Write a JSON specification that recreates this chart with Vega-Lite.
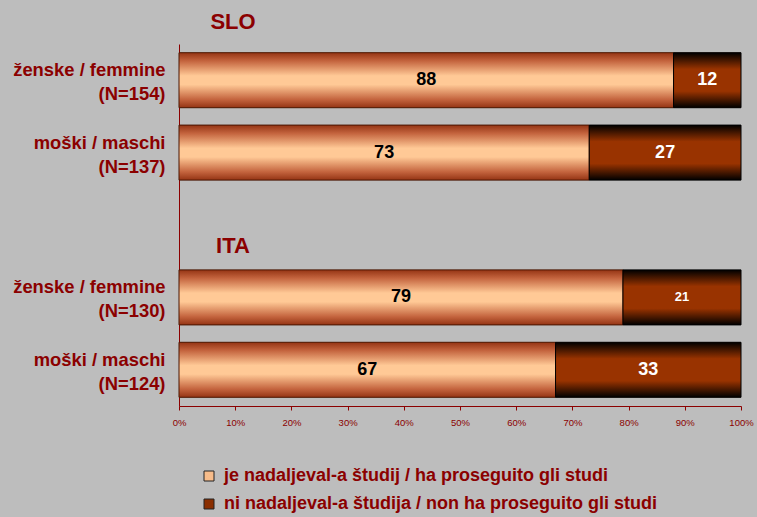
{
  "$schema": "https://vega.github.io/schema/vega-lite/v6.json",
  "width": 562,
  "height": 362,
  "autosize": {"type": "none"},
  "padding": {"left": 179, "top": 44, "right": 16, "bottom": 111},
  "background": "#bdbdbd",
  "config": {"view": {"stroke": null}, "font": "Liberation Sans"},
  "datasets": {
    "bars": [
      {"row": "ženske / femmine|(N=154)", "grp": "SLO", "cat": "je nadaljeval-a študij / ha proseguito gli studi", "value": 88},
      {"row": "ženske / femmine|(N=154)", "grp": "SLO", "cat": "ni nadaljeval-a študija / non ha proseguito gli studi", "value": 12},
      {"row": "moški / maschi|(N=137)", "grp": "SLO", "cat": "je nadaljeval-a študij / ha proseguito gli studi", "value": 73},
      {"row": "moški / maschi|(N=137)", "grp": "SLO", "cat": "ni nadaljeval-a študija / non ha proseguito gli studi", "value": 27},
      {"row": "ženske / femmine|(N=130)", "grp": "ITA", "cat": "je nadaljeval-a študij / ha proseguito gli studi", "value": 79},
      {"row": "ženske / femmine|(N=130)", "grp": "ITA", "cat": "ni nadaljeval-a študija / non ha proseguito gli studi", "value": 21},
      {"row": "moški / maschi|(N=124)", "grp": "ITA", "cat": "je nadaljeval-a študij / ha proseguito gli studi", "value": 67},
      {"row": "moški / maschi|(N=124)", "grp": "ITA", "cat": "ni nadaljeval-a študija / non ha proseguito gli studi", "value": 33}
    ]
  },
  "layer": [
    {
      "data": {"name": "bars"},
      "mark": {"type": "bar"},
      "encoding": {
        "x": {"field": "value", "type": "quantitative", "stack": "zero", "title": null,
          "scale": {"domain": [0, 100], "nice": false},
          "axis": {"values": [0,10,20,30,40,50,60,70,80,90,100], "labelExpr": "datum.value + '%'", "labelFontSize": 9.5, "labelColor": "#8b0000", "domainColor": "#8b0000", "tickColor": "#8b0000", "tickSize": 4, "grid": false, "labelPadding": 7, "labelFlush": false}},
        "y": {"field": "row", "type": "nominal", "title": null,
          "scale": {"domain": ["ženske / femmine|(N=154)", "moški / maschi|(N=137)", " ", "ženske / femmine|(N=130)", "moški / maschi|(N=124)"], "paddingInner": 0.24, "paddingOuter": 0.12},
          "axis": {"labelExpr": "split(datum.value, '|')", "labelFontSize": 18.4, "labelFontWeight": "bold", "labelColor": "#8b0000", "labelLineHeight": 24, "labelOffset": -10, "domainColor": "#8b0000", "ticks": false, "labelPadding": 14, "labelLimit": 300}},
        "order": {"field": "cat", "sort": "ascending"},
        "color": {"field": "cat", "type": "nominal", "title": null,
          "scale": {"range": ["#f7bc8a", "#8a2e00"]},
          "legend": {"orient": "none", "legendX": 21, "legendY": 423, "direction": "vertical", "padding": 0, "labelFontSize": 18, "labelFontWeight": "bold", "labelColor": "#8b0000", "labelOffset": 6, "symbolType": "square", "symbolSize": 100, "symbolStrokeColor": "#222222", "symbolStrokeWidth": 1, "rowPadding": 10, "labelLimit": 700}}
      }
    },
    {
      "data": {"name": "bars"},
      "transform": [
        {"stack": "value", "groupby": ["row"], "sort": [{"field": "cat", "order": "ascending"}], "as": ["v0", "v1"]},
        {"filter": "datum.cat == 'je nadaljeval-a študij / ha proseguito gli studi'"}
      ],
      "mark": {"type": "bar", "stroke": "#4a1500", "strokeWidth": 1,
        "fill": {"gradient": "linear", "x1": 0, "y1": 0, "x2": 0, "y2": 1, "stops": [
          {"offset": 0, "color": "#943414"}, {"offset": 0.15, "color": "#c4643e"}, {"offset": 0.42, "color": "#ffc996"},
          {"offset": 0.58, "color": "#ffc996"}, {"offset": 0.85, "color": "#c4643e"}, {"offset": 1, "color": "#943414"}]}},
      "encoding": {
        "x": {"field": "v0", "type": "quantitative", "title": null},
        "x2": {"field": "v1"},
        "y": {"field": "row", "type": "nominal", "title": null}
      }
    },
    {
      "data": {"name": "bars"},
      "transform": [
        {"stack": "value", "groupby": ["row"], "sort": [{"field": "cat", "order": "ascending"}], "as": ["v0", "v1"]},
        {"filter": "datum.cat == 'ni nadaljeval-a študija / non ha proseguito gli studi'"}
      ],
      "mark": {"type": "bar", "stroke": "#000000", "strokeWidth": 1,
        "fill": {"gradient": "linear", "x1": 0, "y1": 0, "x2": 0, "y2": 1, "stops": [
          {"offset": 0, "color": "#000000"}, {"offset": 0.3, "color": "#993300"},
          {"offset": 0.7, "color": "#993300"}, {"offset": 1, "color": "#000000"}]}},
      "encoding": {
        "x": {"field": "v0", "type": "quantitative", "title": null},
        "x2": {"field": "v1"},
        "y": {"field": "row", "type": "nominal", "title": null}
      }
    },
    {
      "data": {"name": "bars"},
      "mark": {"type": "text", "fontWeight": "bold", "baseline": "middle", "align": "center"},
      "encoding": {
        "x": {"field": "value", "type": "quantitative", "stack": "zero", "bandPosition": 0.5, "title": null},
        "y": {"field": "row", "type": "nominal", "title": null},
        "order": {"field": "cat", "sort": "ascending"},
        "text": {"field": "value", "type": "quantitative"},
        "size": {"condition": {"test": "datum.value == 21", "value": 13}, "value": 18},
        "color": {"condition": {"test": "datum.cat == 'ni nadaljeval-a študija / non ha proseguito gli studi'", "value": "white"}, "value": "black"}
      }
    },
    {
      "data": {"values": [{"t": "SLO", "row": "ženske / femmine|(N=154)"}]},
      "mark": {"type": "text", "fontSize": 22, "fontWeight": "bold", "color": "#8b0000", "align": "center", "baseline": "middle", "dx": 54, "dy": -58},
      "encoding": {
        "x": {"datum": 0, "type": "quantitative"},
        "y": {"field": "row", "type": "nominal", "title": null},
        "text": {"field": "t"}
      }
    },
    {
      "data": {"values": [{"t": "ITA", "row": " "}]},
      "mark": {"type": "text", "fontSize": 22, "fontWeight": "bold", "color": "#8b0000", "align": "center", "baseline": "middle", "dx": 54, "dy": 21},
      "encoding": {
        "x": {"datum": 0, "type": "quantitative"},
        "y": {"field": "row", "type": "nominal", "title": null},
        "text": {"field": "t"}
      }
    }
  ]
}
